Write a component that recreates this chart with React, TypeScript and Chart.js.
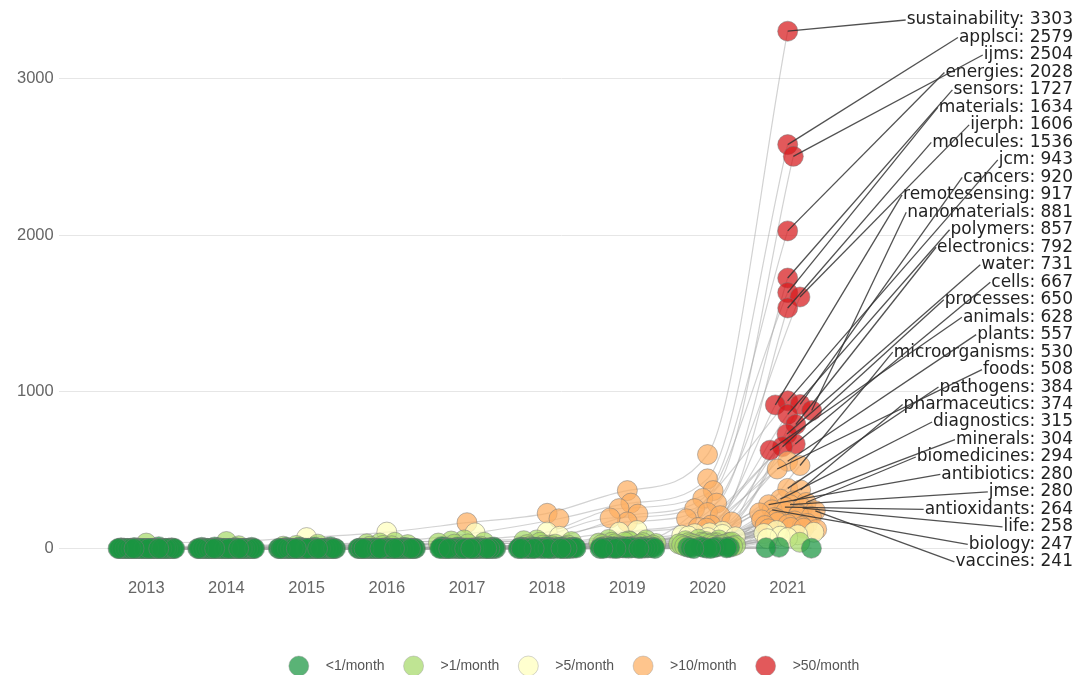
import React, { useEffect, useRef } from 'react';
import { Chart, registerables } from 'chart.js';

Chart.register(...registerables);

// ---------- data ----------
const years = [2013, 2014, 2015, 2016, 2017, 2018, 2019, 2020, 2021];
const yTickValues = [0, 1000, 2000, 3000];

const rateLabels = ['<1/month', '>1/month', '>5/month', '>10/month', '>50/month'];
const rateThresholdsPerMonth = [0, 1, 5, 10, 50];
const rateColors = [
  'rgba(26,150,65,0.72)',
  'rgba(166,217,106,0.72)',
  'rgba(255,255,191,0.75)',
  'rgba(253,174,97,0.72)',
  'rgba(215,25,28,0.72)',
];

const journalNames = [
  'sustainability', 'applsci', 'ijms', 'energies', 'sensors', 'materials', 'ijerph', 'molecules',
  'jcm', 'cancers', 'remotesensing', 'nanomaterials', 'polymers', 'electronics', 'water', 'cells',
  'processes', 'animals', 'plants', 'microorganisms', 'foods', 'pathogens', 'pharmaceutics',
  'diagnostics', 'minerals', 'biomedicines', 'antibiotics', 'jmse', 'antioxidants', 'life',
  'biology', 'vaccines',
];

// counts per year 2013..2021, one row per named journal
const journalCounts = [
  [35, 45, 70, 105, 165, 225, 370, 600, 3303],
  [0, 2, 8, 30, 100, 190, 290, 445, 2579],
  [12, 18, 28, 40, 55, 105, 255, 370, 2504],
  [6, 10, 20, 35, 48, 78, 220, 320, 2028],
  [5, 8, 15, 25, 40, 55, 170, 290, 1727],
  [3, 6, 12, 20, 35, 50, 195, 255, 1634],
  [4, 6, 10, 18, 30, 45, 115, 230, 1606],
  [5, 8, 10, 15, 28, 40, 105, 210, 1536],
  [0, 0, 0, 2, 10, 25, 55, 190, 943],
  [0, 0, 0, 2, 8, 22, 50, 170, 920],
  [2, 3, 5, 8, 15, 28, 58, 150, 917],
  [0, 0, 1, 3, 10, 22, 45, 135, 881],
  [0, 1, 2, 4, 8, 18, 42, 130, 857],
  [0, 0, 0, 1, 5, 14, 40, 110, 792],
  [1, 2, 4, 6, 12, 22, 38, 100, 731],
  [0, 0, 0, 1, 4, 14, 35, 95, 667],
  [0, 0, 0, 1, 3, 10, 30, 85, 650],
  [0, 1, 1, 2, 5, 12, 32, 90, 628],
  [0, 0, 0, 1, 3, 10, 28, 80, 557],
  [0, 0, 1, 2, 4, 10, 26, 75, 530],
  [0, 0, 0, 1, 3, 8, 22, 70, 508],
  [0, 0, 1, 2, 3, 8, 18, 60, 384],
  [0, 0, 1, 2, 3, 8, 18, 55, 374],
  [0, 0, 0, 0, 2, 6, 14, 50, 315],
  [0, 0, 1, 2, 4, 8, 15, 45, 304],
  [0, 0, 0, 0, 1, 5, 12, 40, 294],
  [0, 0, 0, 1, 2, 5, 12, 40, 280],
  [0, 0, 0, 1, 3, 6, 14, 38, 280],
  [0, 0, 0, 1, 2, 5, 12, 35, 264],
  [0, 0, 0, 0, 1, 4, 10, 30, 258],
  [0, 0, 0, 0, 0, 1, 5, 20, 247],
  [0, 0, 0, 0, 1, 3, 10, 35, 241],
];

// unlabeled journals, counts per year 2013..2021
const otherJournalCounts = [
  [0, 0, 0, 1, 2, 5, 14, 42, 236],
  [0, 0, 0, 0, 1, 3, 10, 38, 228],
  [1, 1, 2, 3, 5, 8, 15, 35, 221],
  [0, 0, 0, 0, 0, 2, 8, 30, 214],
  [0, 0, 1, 1, 2, 4, 9, 28, 205],
  [0, 0, 0, 0, 1, 2, 6, 25, 198],
  [2, 2, 3, 4, 6, 9, 14, 32, 190],
  [0, 0, 0, 0, 0, 1, 5, 22, 183],
  [0, 0, 0, 1, 1, 3, 8, 26, 176],
  [0, 0, 0, 0, 0, 0, 3, 18, 168],
  [0, 1, 1, 2, 3, 5, 9, 24, 160],
  [0, 0, 0, 0, 1, 2, 5, 20, 154],
  [0, 0, 0, 0, 0, 1, 4, 16, 147],
  [1, 1, 1, 2, 3, 4, 8, 21, 141],
  [0, 0, 0, 0, 0, 0, 2, 12, 135],
  [0, 0, 0, 0, 1, 2, 4, 15, 130],
  [0, 0, 0, 0, 0, 1, 3, 14, 126],
  [0, 0, 0, 1, 1, 2, 5, 13, 122],
  [0, 0, 0, 0, 1, 2, 4, 11, 115],
  [0, 0, 0, 0, 0, 1, 3, 10, 104],
  [1, 1, 1, 2, 2, 3, 5, 9, 96],
  [0, 0, 0, 0, 0, 0, 2, 8, 88],
  [0, 0, 0, 0, 1, 1, 3, 7, 79],
  [0, 0, 0, 0, 0, 0, 1, 6, 70],
  [0, 0, 0, 0, 0, 1, 2, 5, 63],
  [0, 0, 0, 0, 0, 0, 1, 4, 40],
  [0, 0, 0, 0, 0, 0, 0, 2, 8],
  [0, 0, 0, 0, 0, 0, 0, 1, 5],
  [0, 0, 0, 0, 0, 0, 0, 0, 2],
];

// ---------- layout constants ----------
const PX_PER_YEAR = 80.1;
const PX_PER_UNIT = 0.1564;
const COLLIDE = 13;
const MAX_SPREAD = 29;
const POINT_RADIUS = 10;
const X_MIN = 2011.908;
const X_MAX = 2024.446;
const LABEL_TOP = 19;
const LABEL_STEP = 17.48;
const LABEL_RIGHT = 1073;
const LABEL_FONT = '17px "DejaVu Sans", sans-serif';
const AXIS_FONT_FAMILY = '"Liberation Sans", Arial, sans-serif';
const LEGEND_Y = 666;
const LEGEND_CENTER_X = 574;

function rateClass(v: number): number {
  const perMonth = v / 12;
  let c = 0;
  for (let i = 1; i < rateThresholdsPerMonth.length; i++) {
    if (perMonth > rateThresholdsPerMonth[i]) c = i;
  }
  return c;
}

// deterministic horizontal beeswarm (layout only)
function swarmOffsets(values: number[]): number[] {
  const order = values.map((_, i) => i).sort((a, b) => values[b] - values[a] || a - b);
  const placed: { x: number; y: number }[] = [];
  const res = new Array(values.length).fill(0);
  for (const i of order) {
    const y = values[i] * PX_PER_UNIT;
    const intervals: [number, number][] = [];
    for (const p of placed) {
      const dy = Math.abs(p.y - y);
      if (dy < COLLIDE) {
        const w = Math.sqrt(COLLIDE * COLLIDE - dy * dy);
        intervals.push([p.x - w, p.x + w]);
      }
    }
    const cands = [0];
    intervals.forEach(([a, b]) => cands.push(a, b));
    let best = Infinity;
    for (const c of cands) {
      if (intervals.some(([a, b]) => c > a + 1e-6 && c < b - 1e-6)) continue;
      if (Math.abs(c) < Math.abs(best) - 1e-9 || (Math.abs(Math.abs(c) - Math.abs(best)) < 1e-9 && c > best)) best = c;
    }
    placed.push({ x: best, y });
    let x = best;
    if (Math.abs(x) > MAX_SPREAD) {
      x = Math.sign(x) * (Math.abs(x) % MAX_SPREAD);
    }
    res[i] = x / PX_PER_YEAR;
  }
  return res;
}

export default function App() {
  const canvasRef = useRef<HTMLCanvasElement | null>(null);

  useEffect(() => {
    const canvas = canvasRef.current;
    if (!canvas) return;

    const allCounts = [...journalCounts, ...otherJournalCounts];
    const offsets: number[][] = allCounts.map(() => new Array(years.length).fill(0));
    years.forEach((_, yi) => {
      const vals = allCounts.map((row) => row[yi]);
      const off = swarmOffsets(vals);
      off.forEach((o, j) => (offsets[j][yi] = o));
    });

    const lineDatasets = allCounts.map((row, j) => ({
      label: j < journalNames.length ? journalNames[j] : 'other' + j,
      data: row.map((v, yi) => ({ x: years[yi] + offsets[j][yi], y: v })),
      showLine: true,
      borderColor: 'rgba(165,165,165,0.5)',
      borderWidth: 1.2,
      pointRadius: 0,
      pointHoverRadius: 0,
      cubicInterpolationMode: 'monotone' as const,
      order: 100,
    }));

    const pointBuckets: { x: number; y: number }[][] = rateLabels.map(() => []);
    allCounts.forEach((row, j) => {
      row.forEach((v, yi) => {
        pointBuckets[rateClass(v)].push({ x: years[yi] + offsets[j][yi], y: v });
      });
    });
    const pointDatasets = pointBuckets.map((pts, c) => ({
      label: rateLabels[c],
      data: pts,
      showLine: false,
      backgroundColor: rateColors[c],
      borderColor: 'rgba(120,120,120,0.5)',
      pointBackgroundColor: rateColors[c],
      pointBorderColor: 'rgba(120,120,120,0.5)',
      pointBorderWidth: 1,
      pointRadius: POINT_RADIUS,
      pointHoverRadius: POINT_RADIUS,
      order: 1 + c,
    }));

    const lastIdx = years.length - 1;

    const labelPlugin = {
      id: 'journalLabels',
      afterDatasetsDraw(chart: any) {
        const { ctx } = chart;
        const xs = chart.scales.x;
        const ys = chart.scales.y;
        ctx.save();
        ctx.font = LABEL_FONT;
        const items = journalNames.map((name, i) => {
          const v = journalCounts[i][lastIdx];
          const text = `${name}: ${v}`;
          const w = ctx.measureText(text).width;
          return {
            text,
            w,
            ly: LABEL_TOP + i * LABEL_STEP,
            px: xs.getPixelForValue(years[lastIdx] + offsets[i][lastIdx]),
            py: ys.getPixelForValue(v),
          };
        });
        ctx.fillStyle = '#ffffff';
        items.forEach((it) => {
          ctx.fillRect(LABEL_RIGHT - it.w - 1, it.ly - LABEL_STEP / 2, it.w + 3, LABEL_STEP);
        });
        ctx.fillStyle = '#222222';
        ctx.textAlign = 'right';
        ctx.textBaseline = 'middle';
        items.forEach((it) => ctx.fillText(it.text, LABEL_RIGHT, it.ly + 1));
        ctx.strokeStyle = 'rgba(50,50,50,0.85)';
        ctx.lineWidth = 1.3;
        items.forEach((it) => {
          ctx.beginPath();
          ctx.moveTo(it.px, it.py);
          ctx.lineTo(LABEL_RIGHT - it.w - 1, it.ly + 1);
          ctx.stroke();
        });
        ctx.restore();
      },
    };

    const legendPlugin = {
      id: 'rateLegend',
      afterDraw(chart: any) {
        const { ctx } = chart;
        ctx.save();
        ctx.font = `14px ${AXIS_FONT_FAMILY}`;
        const R = 10;
        const GAP = 17;
        const SPACING = 19;
        const widths = rateLabels.map((t) => ctx.measureText(t).width);
        const total = widths.reduce((s, w) => s + 2 * R + GAP + w, 0) + SPACING * (widths.length - 1);
        let xPos = LEGEND_CENTER_X - total / 2;
        rateLabels.forEach((t, i) => {
          ctx.beginPath();
          ctx.arc(xPos + R, LEGEND_Y, R, 0, Math.PI * 2);
          ctx.fillStyle = rateColors[i];
          ctx.fill();
          ctx.strokeStyle = 'rgba(150,150,150,0.4)';
          ctx.lineWidth = 1;
          ctx.stroke();
          ctx.fillStyle = '#555555';
          ctx.textAlign = 'left';
          ctx.textBaseline = 'middle';
          ctx.fillText(t, xPos + 2 * R + GAP, LEGEND_Y);
          xPos += 2 * R + GAP + widths[i] + SPACING;
        });
        ctx.restore();
      },
    };

    const chart = new Chart(canvas, {
      type: 'scatter',
      data: { datasets: [...lineDatasets, ...pointDatasets] as any },
      options: {
        animation: false,
        responsive: true,
        maintainAspectRatio: false,
        events: [],
        layout: { padding: { left: 12, right: 5, top: 16, bottom: 71 } },
        plugins: {
          legend: { display: false },
          tooltip: { enabled: false },
        },
        scales: {
          x: {
            type: 'linear',
            min: X_MIN,
            max: X_MAX,
            grid: { display: false },
            border: { display: false },
            afterBuildTicks: (axis: any) => {
              axis.ticks = years.map((v) => ({ value: v }));
            },
            ticks: {
              autoSkip: false,
              maxRotation: 0,
              padding: 6,
              color: '#666666',
              font: { family: AXIS_FONT_FAMILY, size: 16.5 },
              callback: (v: any) => String(v),
            },
          },
          y: {
            type: 'linear',
            min: -100,
            max: 3400,
            grid: { color: '#e6e6e6', lineWidth: 1, drawTicks: false },
            border: { display: false },
            afterBuildTicks: (axis: any) => {
              axis.ticks = yTickValues.map((v) => ({ value: v }));
            },
            ticks: {
              padding: 5,
              color: '#666666',
              font: { family: AXIS_FONT_FAMILY, size: 16.5 },
              callback: (v: any) => String(v),
            },
          },
        },
      },
      plugins: [labelPlugin, legendPlugin],
    });

    return () => chart.destroy();
  }, []);

  return (
    <div style={{ position: 'fixed', left: 0, top: 0, width: 1075, height: 675, background: '#ffffff' }}>
      <canvas ref={canvasRef} />
    </div>
  );
}
